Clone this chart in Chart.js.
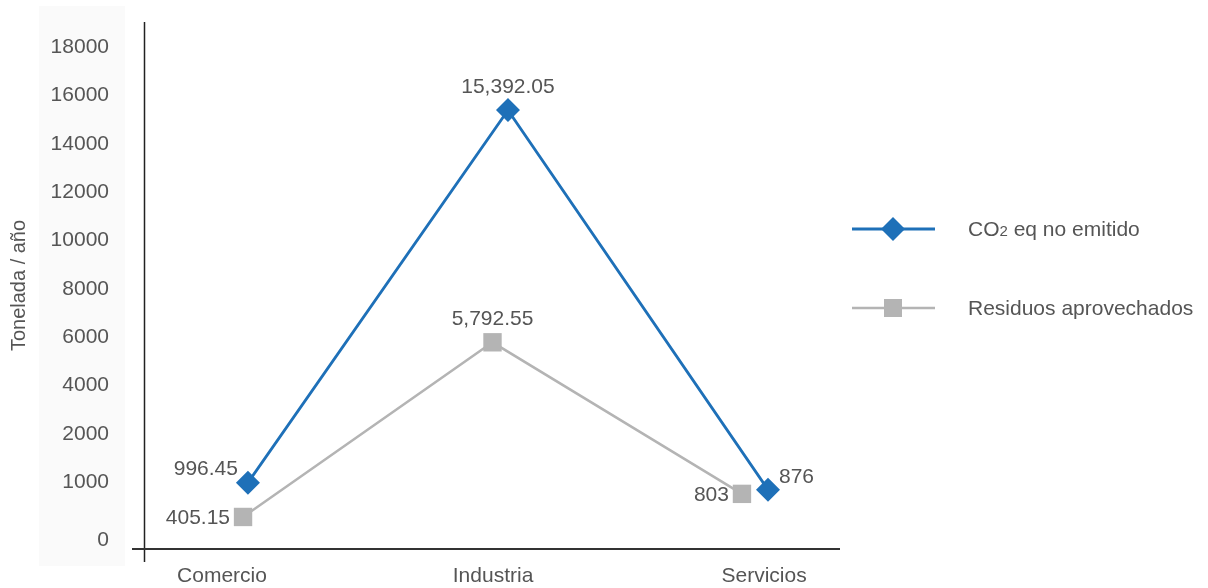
<!DOCTYPE html>
<html>
<head>
<meta charset="utf-8">
<script src="https://cdn.jsdelivr.net/npm/chart.js@4/dist/chart.umd.min.js"></script>
<style>
html,body{margin:0;padding:0;background:#fff;}
#wrap{position:relative;width:1208px;height:588px;overflow:hidden;}
#panel{position:absolute;left:39px;top:6px;width:86px;height:560px;background:#fafafa;}
#chart{position:absolute;left:0;top:0;}
.lg-item{position:absolute;left:852px;height:30px;}
.lg-item svg{position:absolute;left:0;top:0;}
.lg-text{position:absolute;left:116px;top:3px;white-space:nowrap;line-height:24px;
  font-family:"Liberation Sans",Arial,Helvetica,sans-serif;font-size:21px;color:#555;}
.lg-text .sub{font-size:15px;}
</style>
</head>
<body>
<div id="wrap">
  <div id="panel"></div>
  <canvas id="chart" width="1208" height="588"></canvas>
  <div id="legend"></div>
</div>
<script>
// ---------- data ----------
const categories = ['Comercio', 'Industria', 'Servicios'];
const co2Values = [996.45, 15392.05, 876];
const residuosValues = [405.15, 5792.55, 803];
const seriesNames = ['CO₂ eq no emitido', 'Residuos aprovechados'];
const yTickValues = [0, 1000, 2000, 4000, 6000, 8000, 10000, 12000, 14000, 16000, 18000];
const yAxisTitle = 'Tonelada / año';

// ---------- styles ----------
const FONT = '"Liberation Sans", Arial, Helvetica, sans-serif';
const TEXT = '#555';
const BLUE = '#1e70b8';
const GRAY = '#b4b4b4';
const co2LabelPos = ['leftAbove', 'above', 'rightAbove'];
const resLabelPos = ['left', 'above', 'left'];

// The axis of the original is not uniform: ticks are evenly spaced, the first gap is a bit larger.
const knotPos = yTickValues.map((v, i) => i === 0 ? -0.2 : i);
function toPos(v) {
  const n = yTickValues.length;
  let i = 0;
  if (v <= yTickValues[0]) i = 0;
  else if (v >= yTickValues[n - 1]) i = n - 2;
  else { while (v > yTickValues[i + 1]) i++; }
  const v0 = yTickValues[i], v1 = yTickValues[i + 1];
  return knotPos[i] + (v - v0) / (v1 - v0) * (knotPos[i + 1] - knotPos[i]);
}
function fromPos(p) {
  const n = knotPos.length;
  let i = 0;
  if (p <= knotPos[0]) i = 0;
  else if (p >= knotPos[n - 1]) i = n - 2;
  else { while (p > knotPos[i + 1]) i++; }
  const p0 = knotPos[i], p1 = knotPos[i + 1];
  return yTickValues[i] + (p - p0) / (p1 - p0) * (yTickValues[i + 1] - yTickValues[i]);
}

class PiecewiseScale extends Chart.LinearScale {
  getPixelForValue(value) {
    if (value === null || value === undefined || isNaN(value)) return NaN;
    const a = toPos(this.min), b = toPos(this.max);
    return this.getPixelForDecimal((toPos(value) - a) / (b - a));
  }
  getValueForPixel(pixel) {
    const a = toPos(this.min), b = toPos(this.max);
    return fromPos(a + this.getDecimalForPixel(pixel) * (b - a));
  }
}
PiecewiseScale.id = 'piecewise';
PiecewiseScale.defaults = Chart.LinearScale.defaults;
Chart.register(PiecewiseScale);

Chart.defaults.font.family = FONT;
Chart.defaults.color = TEXT;

const fmt = v => v.toLocaleString('en-US', { maximumFractionDigits: 2 });

const axesLines = {
  id: 'axesLines',
  beforeDatasetsDraw(chart) {
    const { ctx, chartArea: a } = chart;
    ctx.save();
    ctx.strokeStyle = '#222';
    ctx.lineWidth = 1.5;
    ctx.beginPath();
    ctx.moveTo(a.left - 0.5, a.top);
    ctx.lineTo(a.left - 0.5, a.bottom + 13);
    ctx.stroke();
    ctx.strokeStyle = '#333';
    ctx.lineWidth = 2;
    ctx.beginPath();
    ctx.moveTo(a.left - 13, a.bottom);
    ctx.lineTo(a.right, a.bottom);
    ctx.stroke();
    ctx.restore();
  }
};

const valueLabels = {
  id: 'valueLabels',
  afterDatasetsDraw(chart) {
    const { ctx } = chart;
    const placements = [co2LabelPos, resLabelPos];
    ctx.save();
    ctx.font = '21px ' + FONT;
    ctx.fillStyle = TEXT;
    ctx.textBaseline = 'middle';
    chart.data.datasets.forEach((ds, di) => {
      const meta = chart.getDatasetMeta(di);
      meta.data.forEach((pt, i) => {
        const txt = fmt(ds.data[i].y);
        const p = placements[di][i];
        let x = pt.x, y = pt.y;
        if (p === 'above') { ctx.textAlign = 'center'; y -= 23; }
        else if (p === 'leftAbove') { ctx.textAlign = 'right'; x -= 10; y -= 13; }
        else if (p === 'left') { ctx.textAlign = 'right'; x -= 13; y += 1; }
        else if (p === 'rightAbove') { ctx.textAlign = 'left'; x += 11; y -= 12; }
        ctx.fillText(txt, x, y);
      });
    });
    ctx.restore();
  }
};

const toPoints = arr => arr.map((v, i) => ({ x: i, y: v }));
const noPad = s => { s.paddingTop = 0; s.paddingBottom = 0; s.paddingLeft = 0; s.paddingRight = 0; };

new Chart(document.getElementById('chart'), {
  type: 'line',
  data: {
    datasets: [
      {
        label: seriesNames[0],
        data: toPoints(co2Values),
        xAxisID: 'xCO2',
        yAxisID: 'y',
        borderColor: BLUE,
        backgroundColor: BLUE,
        borderWidth: 2.8,
        pointStyle: 'rectRot',
        pointRadius: 12,
        pointHoverRadius: 12,
        pointBorderWidth: 0,
        pointBackgroundColor: BLUE,
        tension: 0
      },
      {
        label: seriesNames[1],
        data: toPoints(residuosValues),
        xAxisID: 'xRes',
        yAxisID: 'y',
        borderColor: GRAY,
        backgroundColor: GRAY,
        borderWidth: 2.5,
        pointStyle: 'rect',
        pointRadius: 13,
        pointHoverRadius: 13,
        pointBorderWidth: 0,
        pointBackgroundColor: GRAY,
        tension: 0
      }
    ]
  },
  options: {
    responsive: false,
    animation: false,
    events: [],
    layout: { padding: { left: 0, right: 368, top: 22, bottom: 0 } },
    plugins: { legend: { display: false }, tooltip: { enabled: false } },
    scales: {
      x: {
        type: 'linear',
        position: 'bottom',
        min: -0.284,
        max: 2.28,
        grid: { display: false, drawTicks: false },
        border: { display: false },
        afterBuildTicks: s => { s.ticks = categories.map((c, i) => ({ value: i })); },
        ticks: {
          callback: v => categories[v],
          font: { size: 21 },
          color: TEXT,
          padding: 15,
          maxRotation: 0,
          autoSkip: false
        },
        afterFit: s => { s.height = 39; noPad(s); }
      },
      xCO2: { type: 'linear', position: 'bottom', display: false, min: -0.396, max: 2.277 },
      xRes: { type: 'linear', position: 'bottom', display: false, min: -0.393, max: 2.393 },
      y: {
        type: 'piecewise',
        position: 'left',
        bounds: 'data',
        min: fromPos(-0.376),
        max: fromPos(10.517),
        grid: { display: false, drawTicks: false },
        border: { display: false },
        afterBuildTicks: s => { s.ticks = yTickValues.map(v => ({ value: v })); },
        ticks: {
          callback: v => String(v),
          font: { size: 21 },
          color: TEXT,
          padding: 36,
          autoSkip: false
        },
        title: {
          display: true,
          text: yAxisTitle,
          font: { size: 20 },
          color: TEXT,
          padding: { top: 7, bottom: 0 }
        },
        afterFit: s => { s.width = 145; noPad(s); }
      }
    }
  },
  plugins: [axesLines, valueLabels]
});

// ---------- HTML legend ----------
const legendRows = [
  { name: seriesNames[0], color: BLUE, marker: 'diamond', width: 2.8, top: 214 },
  { name: seriesNames[1], color: GRAY, marker: 'square', width: 2.5, top: 293 }
];
const lg = document.getElementById('legend');
legendRows.forEach(r => {
  const d = document.createElement('div');
  d.className = 'lg-item';
  d.style.top = r.top + 'px';
  const mk = r.marker === 'diamond'
    ? `<polygon points="41,3 53,15 41,27 29,15" fill="${r.color}"/>`
    : `<rect x="32" y="6" width="18" height="18" fill="${r.color}"/>`;
  const label = r.name.replace('₂', '<span class="sub">2</span>');
  d.innerHTML = `<svg width="84" height="30"><line x1="0" y1="15" x2="83" y2="15" stroke="${r.color}" stroke-width="${r.width}"/>${mk}</svg><div class="lg-text">${label}</div>`;
  lg.appendChild(d);
});
</script>
</body>
</html>
